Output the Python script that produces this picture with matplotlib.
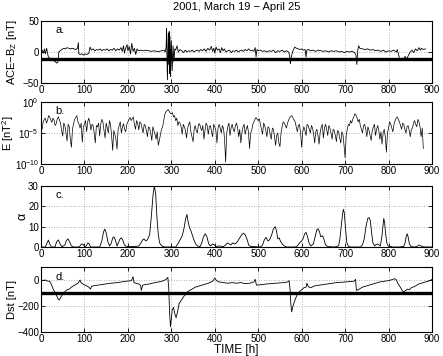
import matplotlib
matplotlib.use("Agg")
import matplotlib.pyplot as plt
import numpy as np

plt.rcParams["font.family"] = ["Liberation Sans", "DejaVu Sans"]
plt.rcParams["mathtext.fontset"] = "custom"
plt.rcParams["mathtext.rm"] = "Liberation Sans"
plt.rcParams["mathtext.it"] = "Liberation Sans:italic"
plt.rcParams["axes.unicode_minus"] = True

TITLE = "2001, March 19 \u2212 April 25"

# --- panel a: ACE Bz [nT] ---
bz_hours = [0, 3, 5, 8, 10, 13, 15, 17, 20, 24, 28, 32, 36, 39, 41, 44, 48, 52, 56, 60,
            64, 68, 72, 76, 80, 84, 86, 87, 90, 94, 98, 102, 106, 110, 113, 116, 120, 124, 128, 132,
            136, 140, 144, 148, 152, 156, 160, 164, 168, 172, 176, 180, 184, 187, 190, 192, 195, 198, 200, 203,
            206, 209, 212, 215, 218, 221, 224, 230, 236, 242, 248, 254, 260, 266, 272, 278, 283, 286, 288, 289,
            290, 291, 293, 294, 295, 296, 297, 298, 300, 302, 304, 306, 308, 310, 313, 316, 320, 324, 328, 332,
            336, 340, 344, 348, 352, 356, 360, 364, 368, 372, 376, 380, 384, 388, 392, 395, 398, 400, 403, 406,
            410, 413, 416, 419, 422, 426, 430, 434, 438, 442, 446, 450, 454, 458, 462, 466, 470, 474, 478, 482,
            486, 490, 493, 495, 497, 500, 505, 510, 515, 520, 525, 530, 535, 540, 545, 550, 555, 560, 565, 570,
            572, 574, 576, 580, 584, 588, 592, 596, 600, 604, 608, 610, 612, 616, 620, 626, 632, 638, 644, 650,
            656, 662, 668, 674, 680, 686, 692, 698, 704, 710, 716, 722, 725, 727, 729, 731, 734, 740, 746, 752,
            758, 764, 770, 776, 782, 788, 794, 800, 806, 812, 818, 820, 823, 826, 830, 834, 838, 842, 846, 850,
            854, 858, 862, 866, 870, 873, 876, 880, 885]
bz_vals = [0, 3, -2, 5, -3, 6, -2, -8, -10, -12, -14, -15, -18, -16, 0, 2, 4, 6, 5, 7,
           6, 5, 6, 5, 4, 6, 15, -3, -4, -3, -5, -3, -4, -2, 8, 3, 5, 2, 4, 3,
           5, 2, 4, 3, 5, 2, 4, 3, 6, 2, 5, 3, 7, 1, 10, -2, 6, 12, 2, 9,
           -3, 14, 1, 6, -4, 5, 2, 3, 2, 3, 2, 1, 2, 1, 1, 2, 3, 0, 8, 38,
           -10, -45, 30, -20, 33, -35, 25, -40, 18, -30, 10, -15, 5, 3, 10, 0, 4, 2, -1, 3,
           0, 2, 1, 3, 0, 2, 3, 1, 4, 2, 5, 1, 6, 3, 9, 1, 6, -2, 8, 3,
           5, -1, 7, 2, 5, 0, 2, 3, -1, 2, 1, 3, 0, 2, 3, 1, 4, 2, 5, 2,
           3, 1, 7, -8, 4, 2, 3, 1, 2, 0, 2, 1, 3, -1, 2, 1, 3, 0, 2, 0,
           -5, -19, -8, 2, 8, 6, 5, 4, 5, 3, 4, -8, 3, 4, 2, 3, 1, 3, 2, 1,
           2, 0, 2, 1, 2, 0, 1, -1, 1, 0, 1, -1, -5, -20, 2, 10, 6, 5, 4, 5,
           3, 4, 2, 3, 1, 3, 0, 2, 1, 3, 0, 4, -4, -13, -10, -12, -7, -11, -5, 0,
           3, -1, 5, 2, 7, 3, 6, 4, 5]
BZ_THRESHOLD = -11

# --- panel b: E [nT^2], log10 values every 2.5 h from 0 to 880 ---
e_hours = np.arange(0, 882.5, 2.5)
e_log10 = [
    -3.8, -4.4, -3.2, -2.8, -2.6, -3.4, -3.0, -2.2, -2.4, -2.9, -3.3, -2.6, -2.9, -3.8, -3.5, -2.7, -2.4, -2.9, -3.4, -4.6,
    -5.5, -3.4, -3.8, -5.0, -6.3, -3.6, -4.0, -6.0, -7.3, -4.4, -3.5, -2.8, -2.5, -2.2, -3.2, -3.6, -4.2, -3.4, -6.5, -4.0,
    -3.6, -3.0, -4.8, -3.2, -2.6, -3.4, -4.5, -3.6, -3.8, -5.0, -6.6, -3.8, -4.0, -3.4, -5.5, -3.6, -2.8, -3.2, -4.6, -5.8,
    -3.4, -4.2, -5.0, -3.0, -3.6, -5.4, -7.8, -4.6, -5.2, -6.0, -7.6, -4.4, -3.8, -3.2, -5.0, -4.0, -3.5, -4.4, -4.8, -3.6,
    -3.2, -2.8, -2.5, -3.0, -2.7, -2.4, -3.6, -4.4, -3.0, -3.4, -4.5, -3.2, -3.4, -4.2, -5.0, -3.6, -3.8, -4.6, -5.6, -4.0,
    -4.2, -5.0, -6.2, -4.0, -4.6, -5.2, -6.0, -4.8, -7.0, -6.2, -5.2, -4.4, -4.0, -3.0, -2.0, -1.6, -1.4, -1.2, -1.5, -1.8,
    -1.9, -1.7, -2.4, -2.2, -3.0, -2.6, -3.8, -3.2, -3.4, -4.0, -5.2, -3.6, -4.0, -4.6, -5.8, -4.2, -3.6, -3.2, -4.8, -5.6,
    -6.4, -4.4, -3.8, -4.6, -5.0, -3.6, -3.5, -4.2, -4.6, -3.8, -6.0, -4.6, -3.4, -3.8, -5.2, -4.0, -3.8, -4.8, -5.6, -3.6,
    -4.0, -4.6, -6.6, -4.2, -3.6, -4.2, -5.0, -3.8, -4.2, -6.0, -9.7, -5.0, -4.0, -3.4, -5.4, -4.2, -3.6, -4.4, -4.8, -3.8,
    -3.4, -4.2, -5.6, -4.4, -6.6, -5.0, -4.0, -3.6, -5.2, -4.4, -3.8, -4.8, -7.5, -5.0, -4.6, -3.6, -3.2, -2.8, -2.5, -2.8,
    -3.0, -2.7, -3.6, -4.4, -5.2, -3.4, -3.8, -4.6, -5.6, -4.0, -4.2, -5.2, -6.0, -4.2, -4.4, -5.6, -7.0, -5.4, -5.0, -6.6,
    -7.2, -5.0, -4.0, -3.2, -3.4, -3.8, -4.2, -3.4, -2.9, -2.5, -2.3, -2.2, -2.6, -2.9, -3.2, -4.0, -4.8, -3.8, -3.6, -5.0,
    -7.3, -4.8, -4.0, -4.6, -5.4, -3.6, -3.8, -4.4, -5.0, -3.8, -4.2, -5.2, -6.6, -4.8, -4.4, -5.4, -6.8, -5.0, -4.0, -3.6,
    -5.8, -4.2, -3.6, -4.4, -5.4, -3.8, -4.2, -5.0, -6.0, -4.4, -4.6, -5.4, -6.4, -4.6, -4.8, -5.8, -6.6, -4.8, -5.2, -7.0,
    -9.0, -5.4, -4.4, -3.6, -3.8, -3.0, -3.4, -2.8, -2.4, -1.9, -2.1, -2.6, -3.2, -2.8, -3.8, -4.4, -5.0, -3.8, -3.6, -4.4,
    -5.6, -4.0, -4.6, -5.4, -6.2, -4.6, -4.0, -3.6, -5.4, -4.4, -3.8, -4.6, -6.0, -4.8, -6.8, -5.0, -4.4, -5.6, -8.1, -5.0,
    -4.2, -3.2, -3.6, -4.2, -4.8, -3.6, -3.0, -2.6, -2.4, -2.8, -3.2, -3.8, -4.4, -3.4, -3.6, -4.4, -5.0, -4.0, -3.8, -4.6,
    -5.6, -4.4, -4.2, -3.4, -3.0, -3.6, -4.0, -2.8, -3.2, -4.0, -5.6, -4.2, -7.5]

# --- panel c: alpha ---
alpha_hours = [0, 10, 14, 17, 20, 24, 32, 36, 40, 44, 48, 55, 58, 62, 66, 70, 75, 88, 92, 95,
               98, 101, 104, 108, 111, 114, 135, 140, 144, 147, 150, 154, 158, 162, 165, 168, 171, 175, 178, 182,
               185, 188, 192, 196, 205, 215, 225, 230, 234, 237, 241, 245, 250, 254, 258, 261, 264, 267, 270, 273,
               278, 285, 295, 310, 315, 320, 325, 329, 333, 336, 339, 342, 345, 348, 352, 356, 360, 366, 370, 374,
               378, 382, 386, 390, 395, 399, 403, 410, 420, 425, 429, 433, 437, 441, 445, 450, 456, 462, 466, 470,
               474, 478, 482, 490, 505, 510, 514, 518, 522, 526, 531, 535, 539, 542, 545, 548, 551, 555, 560, 565,
               585, 590, 595, 600, 603, 607, 610, 613, 617, 621, 627, 631, 635, 638, 641, 644, 648, 651, 655, 660,
               675, 685, 688, 691, 694, 696, 698, 701, 704, 708, 712, 735, 740, 744, 748, 752, 755, 758, 761, 764,
               768, 771, 775, 778, 781, 784, 787, 789, 791, 793, 796, 799, 810, 825, 835, 838, 841, 843, 845, 848,
               852, 860, 866, 870, 873, 877, 885, 900]
alpha_vals = [0, 0, 2, 3.4, 1.5, 0, 0, 2.5, 3.5, 1.5, 0, 1, 3, 4, 2.5, 0.5, 0, 0, 1.2, 1.5,
              1, 0, 0.5, 2, 1.5, 0, 0, 3, 7.5, 8.8, 7, 2.5, 0.5, 2, 4.5, 5, 3.5, 0.5, 2, 4,
              4.5, 3.5, 1, 0.3, 0.3, 0.2, 0.5, 2, 3.5, 4, 3, 3.5, 6, 15, 26, 30, 26, 14, 6, 2,
              0.5, 0, 0, 0, 1.5, 3.5, 5.5, 9, 14, 16, 12, 9.5, 8, 6, 3.5, 1.5, 0.5, 0.2, 2, 5,
              6.5, 5, 1.5, 0.5, 1.5, 1, 0.3, 0.5, 0.2, 1, 2, 1.5, 1, 2, 1.5, 2, 4, 6, 6.8, 6,
              4, 1, 0.3, 0.2, 0, 1, 3.5, 4.8, 3, 3.5, 6, 9, 10, 8, 4, 4.5, 3, 1.5, 0.5, 0,
              0, 0.5, 2, 3, 4, 6.5, 7.2, 5.5, 2, 0.5, 1.5, 5, 8.5, 9, 7.5, 5, 5.5, 4, 1, 0.2,
              0, 0.5, 4, 10, 16, 18.5, 17, 9, 2, 0.3, 0, 0, 1, 4, 10, 14, 14.5, 13, 7, 2,
              0.5, 1.2, 1.5, 1, 0.5, 4, 10, 14, 12, 7, 2, 0.5, 0, 0, 0.3, 2, 5.5, 6.5, 5, 1.5,
              0.2, 0, 0.3, 1, 0.8, 0.2, 0, 0]

# --- panel d: Dst [nT] ---
dst_hours = [0, 5, 10, 15, 20, 24, 28, 32, 36, 39, 42, 46, 50, 55, 60, 65, 70, 75, 80, 85,
             88, 90, 92, 96, 100, 105, 110, 114, 116, 120, 130, 140, 150, 160, 170, 180, 190, 200, 208, 212,
             214, 218, 224, 229, 231, 234, 240, 250, 256, 262, 270, 276, 282, 288, 292, 294, 296, 298, 300, 302,
             305, 308, 311, 314, 318, 324, 330, 336, 342, 348, 355, 365, 375, 385, 395, 400, 404, 410, 420, 430,
             440, 450, 460, 470, 480, 490, 493, 496, 500, 510, 520, 530, 540, 550, 560, 568, 571, 573, 575, 577,
             580, 585, 590, 595, 600, 605, 610, 612, 615, 620, 630, 640, 650, 660, 670, 680, 690, 700, 710, 720,
             724, 726, 730, 740, 750, 760, 770, 780, 790, 800, 810, 815, 818, 822, 828, 832, 836, 840, 844, 848,
             852, 860, 870, 880, 890, 895, 900]
dst_vals = [0, -3, 0, -8, -10, -35, -70, -95, -120, -145, -155, -130, -110, -90, -75, -70, -55, -45, -35, -25,
            -10, 0, -20, -30, -38, -45, -55, -70, -50, -45, -40, -35, -30, -25, -22, -18, -12, -8, -5, 25,
            -20, -25, -30, -40, -80, -40, -35, -30, -25, -20, -15, -12, -5, 5, 20, -60, -250, -360, -300, -230,
            -210, -260, -290, -250, -180, -150, -120, -95, -80, -70, -55, -45, -35, -25, -10, 15, -5, -15, -20, -25,
            -20, -25, -20, -28, -25, -15, 5, -40, -38, -35, -30, -28, -25, -22, -20, -15, -5, -60, -180, -245,
            -200, -150, -110, -90, -75, -60, -55, -25, -50, -60, -45, -40, -35, -30, -25, -20, -18, -15, -12, -10,
            5, -80, -75, -55, -45, -35, -25, -15, -10, -5, 5, 10, 0, -30, -60, -85, -90, -80, -70, -75,
            -60, -50, -30, -20, -10, -5, 5]
DST_THRESHOLD = -100

XTICKS = list(range(0, 1000, 100))

W, H = 443, 356
fig = plt.figure(figsize=(W / 100, H / 100), dpi=100)


def px_axes(top, bottom, left=41, right=432):
    return fig.add_axes([left / W, 1 - bottom / H, (right - left) / W, (bottom - top) / H])


def style(ax, tag):
    ax.set_xlim(0, 900)
    ax.set_xticks(XTICKS)
    ax.grid(True, linestyle=(0, (1, 2)), color="#9a9a9a", linewidth=0.6)
    ax.set_axisbelow(True)
    ax.tick_params(direction="in", top=True, right=True, labelsize=7, length=3,
                   width=0.6, pad=1.5)
    for s in ax.spines.values():
        s.set_linewidth(0.8)
    ax.text(0.037, 0.93, tag, transform=ax.transAxes, fontsize=8, va="top", ha="left")


def ylabel_at(ax, text, right_px, size=8):
    ax.set_ylabel(text, fontsize=size)
    ax.yaxis.set_label_coords((right_px - 41) / 391, 0.5)


ax_a = px_axes(21, 83)
ax_b = px_axes(102, 164)
ax_c = px_axes(186, 247)
ax_d = px_axes(267, 332)

# a
ax_a.plot(bz_hours, bz_vals, color="black", lw=0.6)
ax_a.axhline(BZ_THRESHOLD, color="black", lw=2.4)
ax_a.set_ylim(-50, 50)
ax_a.set_yticks([-50, 0, 50])
ylabel_at(ax_a, "ACE\u2212B$_\\mathrm{Z}$ [nT]", 19)
style(ax_a, "a.")

# b
ax_b.semilogy(e_hours, 10.0 ** np.array(e_log10), color="black", lw=0.5)
ax_b.set_ylim(1e-10, 1e0)
ax_b.set_yticks([1e-10, 1e-5, 1e0])
ax_b.minorticks_off()
ylabel_at(ax_b, "E [nT$^2$]", 16)
style(ax_b, "b.")

# c
ax_c.plot(alpha_hours, alpha_vals, color="black", lw=0.6)
ax_c.set_ylim(0, 30)
ax_c.set_yticks([0, 10, 20, 30])
ylabel_at(ax_c, "\u03b1", 28, size=9)
style(ax_c, "c.")

# d
ax_d.plot(dst_hours, dst_vals, color="black", lw=0.6)
ax_d.axhline(DST_THRESHOLD, color="black", lw=2.4)
ax_d.set_ylim(-400, 100)
ax_d.set_yticks([-400, -200, 0])
ylabel_at(ax_d, "Dst [nT]", 17)
style(ax_d, "d.")

fig.text(236.5 / W, 1 - 7 / H, TITLE, fontsize=8, ha="center", va="center")
fig.text(236.5 / W, 1 - 350 / H, "TIME [h]", fontsize=8.5, ha="center", va="center")

fig.savefig("out.png", dpi=100)
